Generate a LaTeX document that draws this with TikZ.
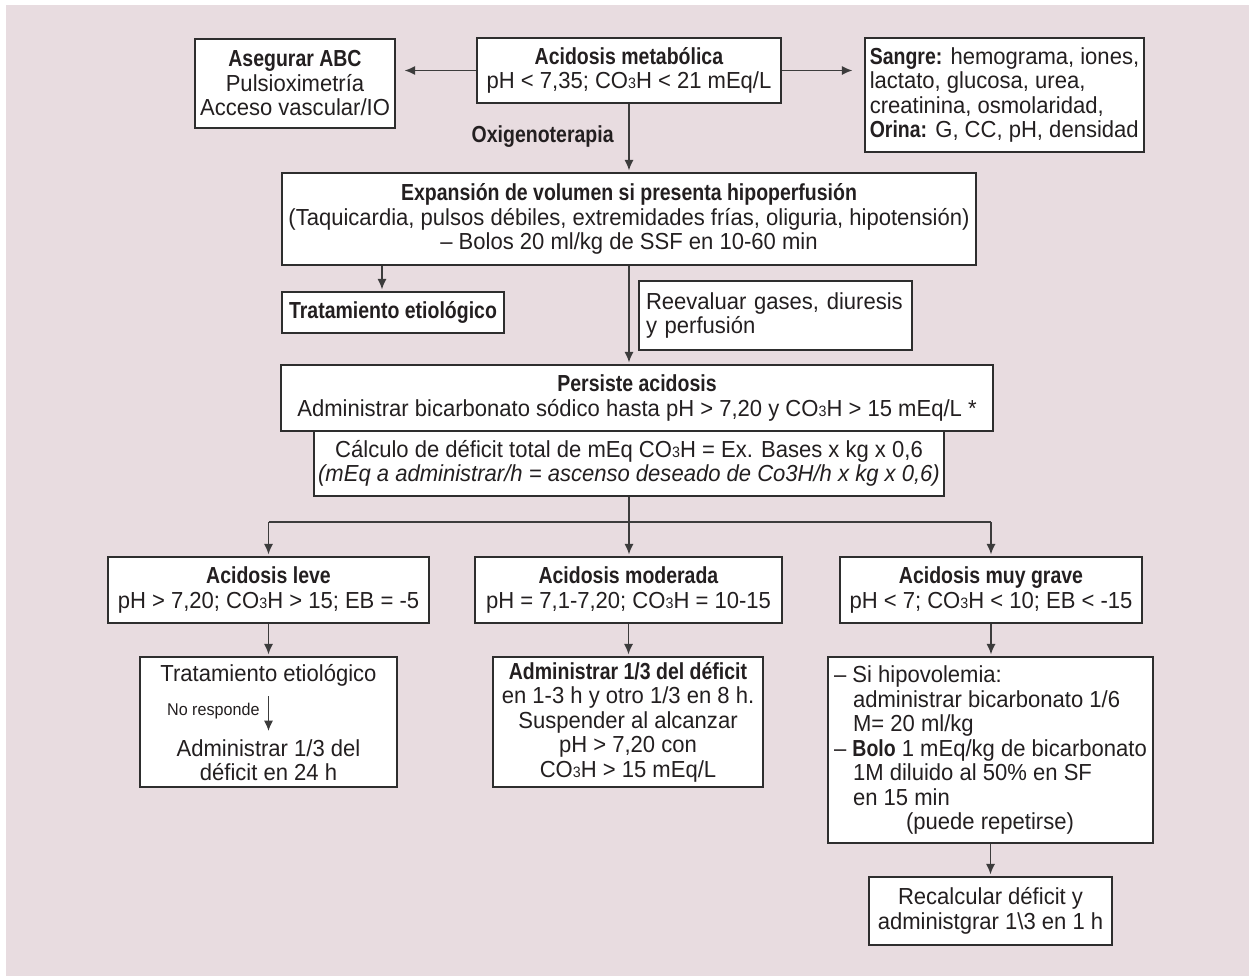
\documentclass[tikz,border=0pt]{standalone}
\usepackage{fontspec}
\setmainfont{Liberation Sans}[UprightFeatures={FakeStretch=0.95},BoldFeatures={FakeStretch=0.84},ItalicFeatures={FakeStretch=0.95}]
\usetikzlibrary{arrows.meta}
\definecolor{bgpink}{HTML}{E8DCE0}
\definecolor{boxc}{HTML}{2E2E2E}
\definecolor{linec}{HTML}{3C3C3C}
\definecolor{txtc}{HTML}{231F20}
\newcommand\mainsz{\fontsize{11.6pt}{12.25pt}\selectfont}
\newcommand\smallsz{\fontsize{8.5pt}{10pt}\selectfont}
\newcommand\COH{CO{\fontsize{7.5pt}{8pt}\selectfont 3}H}
\begin{document}
\begin{tikzpicture}[x=0.5pt,y=-0.5pt,
  box/.style={draw=boxc, line width=0.65pt, fill=white, inner sep=0pt, align=center, font=\mainsz, text=txtc},
  txt/.style={inner sep=0pt, align=center, font=\mainsz, text=txtc},
  link/.style={draw=linec, line width=0.75pt},
  conn/.style={link, -{Latex[length=5.2pt,width=4.6pt]}, shorten >=1pt}]
\useasboundingbox (0,0) rectangle (1249,976);
\fill[bgpink] (6,5) rectangle (1249,976);

% top row
\node[box, minimum width=152pt, minimum height=32.5pt] (met) at (629,70.5)
  {\textbf{Acidosis metabólica}\\pH < 7,35; \COH{} < 21 mEq/L};
\node[box, minimum width=100pt, minimum height=44.5pt] (abc) at (295,83.5)
  {\textbf{Asegurar ABC}\\Pulsioximetría\\Acceso vascular/IO};
\node[box, minimum width=139.5pt, minimum height=57pt, align=left] (lab) at (1004.5,95)
  {\textbf{Sangre:} hemograma, iones,\\lactato, glucosa, urea,\\creatinina, osmolaridad,\\\textbf{Orina:} G, CC, pH, densidad};
\node[txt, anchor=east, font=\mainsz\bfseries] (oxi) at (614,137) {Oxigenoterapia};

% volume expansion
\node[box, minimum width=347pt, minimum height=46pt] (exp) at (629,219)
  {\textbf{Expansión de volumen si presenta hipoperfusión}\\(Taquicardia, pulsos débiles, extremidades frías, oliguria, hipotensión)\\\textendash{} Bolos 20 ml/kg de SSF en 10-60 min};
\node[box, minimum width=111pt, minimum height=20.5pt] (trat1) at (393,312.5) {\textbf{Tratamiento etiológico}};
\node[box, minimum width=136.5pt, minimum height=34.5pt, inner xsep=3.5pt, text width=129.5pt, align=left] (reev) at (775.5,315.5)
  {Reevaluar gases, diuresis\\y perfusión};
\coordinate (tx) at (382,312);

% bicarbonate
\node[box, minimum width=356pt, minimum height=33pt] (pers) at (637,398)
  {\textbf{Persiste acidosis}\\Administrar bicarbonato sódico hasta pH > 7,20 y \COH{} > 15 mEq/L *};
\node[box, minimum width=315pt, minimum height=32.5pt] (calc) at (629,463.5)
  {Cálculo de déficit total de mEq \COH{} = Ex. Bases x kg x 0,6\\\textit{(mEq a administrar/h = ascenso deseado de Co3H/h x kg x 0,6)}};
\coordinate (bus) at (629,522);

% severity
\node[box, minimum width=160.5pt, minimum height=33pt] (leve) at (268.5,590)
  {\textbf{Acidosis leve}\\pH > 7,20; \COH{} > 15; EB = -5};
\node[box, minimum width=153.5pt, minimum height=33pt] (mod) at (628.5,590)
  {\textbf{Acidosis moderada}\\pH = 7,1-7,20; \COH{} = 10-15};
\node[box, minimum width=151pt, minimum height=33pt] (grave) at (991,590)
  {\textbf{Acidosis muy grave}\\pH < 7; \COH{} < 10; EB < -15};

% treatments
\node[box, minimum width=128.5pt, minimum height=65pt] (leveT) at (268.5,722) {};
\node[txt] (leveA) at (268.5,675) {Tratamiento etiológico};
\node[txt] (leveB) at (268.5,760) {Administrar 1/3 del\\déficit en 24 h};
\node[txt, anchor=east, font=\smallsz] (nores) at (260,711) {No responde};
\coordinate (nrTop) at (268.5,696);
\coordinate (nrBot) at (268.5,733);

\node[box, minimum width=135pt, minimum height=65pt] (modT) at (628,722)
  {\textbf{Administrar 1/3 del déficit}\\en 1-3 h y otro 1/3 en 8 h.\\Suspender al alcanzar\\pH > 7,20 con\\\COH{} > 15 mEq/L};
\node[box, minimum width=162.5pt, minimum height=93pt, align=left] (graveT) at (990.5,750)
  {\textendash{} Si hipovolemia:\\
   \hspace*{9.5pt}administrar bicarbonato 1/6\\
   \hspace*{9.5pt}M= 20 ml/kg\\
   \textendash{} \textbf{Bolo} 1 mEq/kg de bicarbonato\\
   \hspace*{9.5pt}1M diluido al 50\% en SF\\
   \hspace*{9.5pt}en 15 min\\
   \hspace*{36pt}(puede repetirse)};
\node[box, minimum width=121.5pt, minimum height=34pt] (recalc) at (990.5,911)
  {Recalcular déficit y\\administgrar 1\textbackslash3 en 1 h};

% connectors
\draw[conn, shorten >=4.5pt] (met.west) -- (met.west -| abc.east);
\draw[conn, shorten >=6pt] (met.east) -- (met.east -| lab.west);
\draw[conn] (met.south) -- (exp.north);
\draw[conn] (exp.south -| tx) -- (trat1.north -| tx);
\draw[conn] (exp.south) -- (exp.south |- pers.north);
\draw[link] (calc.south) -- (bus);
\draw[link] (leve.north |- bus) -- (grave.north |- bus);
\draw[conn] (leve.north |- bus) -- (leve.north);
\draw[conn] (bus) -- (bus |- mod.north);
\draw[conn] (grave.north |- bus) -- (grave.north);
\draw[conn] (leve.south) -- (leveT.north);
\draw[conn] (mod.south) -- (mod.south |- modT.north);
\draw[conn] (grave.south) -- (grave.south |- graveT.north);
\draw[conn] (graveT.south) -- (recalc.north);
\draw[conn] (nrTop) -- (nrBot);
\end{tikzpicture}
\end{document}
